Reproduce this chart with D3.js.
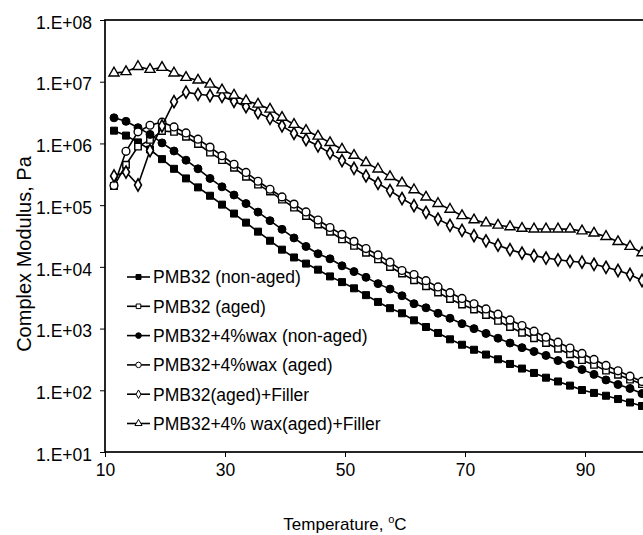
<!DOCTYPE html>
<html>
<head>
<meta charset="utf-8">
<script src="https://cdn.jsdelivr.net/npm/d3@7/dist/d3.min.js"></script>
<style>
  html, body { margin: 0; padding: 0; background: #fff; }
  svg { display: block; }
  text { font-family: "Liberation Sans", Arial, sans-serif; fill: #000; }
</style>
</head>
<body>
<svg id="chart" width="643" height="535"></svg>
<script>
// ---- data ----
const temperature = [11.5,13.5,15.5,17.5,19.5,21.5,23.5,25.5,27.5,29.5,31.5,33.5,35.5,37.5,39.5,41.5,43.5,45.5,47.5,49.5,51.5,53.5,55.5,57.5,59.5,61.5,63.5,65.5,67.5,69.5,71.5,73.5,75.5,77.5,79.5,81.5,83.5,85.5,87.5,89.5,91.5,93.5,95.5,97.5,99.5];

const pmb32NonAged = [1.61e6,1.34e6,1.04e6,7.97e5,5.57e5,3.88e5,2.71e5,1.94e5,1.42e5,1.02e5,7.3e4,5.21e4,3.72e4,2.65e4,1.90e4,1.42e4,1.13e4,9.0e3,7.0e3,5.66e3,4.49e3,3.48e3,2.70e3,2.14e3,1.77e3,1.36e3,1.06e3,849,670,547,454,379,318,267,225,191,160,139,119,101,90.6,81.6,72.1,63.4,55.6];

const pmb32Aged = [2.04e5,4.52e5,8.88e5,1.14e6,1.59e6,1.54e6,1.28e6,9.79e5,7.10e5,5.37e5,4.03e5,2.88e5,2.15e5,1.66e5,1.23e5,9.12e4,6.67e4,4.85e4,3.70e4,2.79e4,2.19e4,1.69e4,1.32e4,9.94e3,7.80e3,6.05e3,4.85e3,3.84e3,3.02e3,2.45e3,2.04e3,1.66e3,1.33e3,1.06e3,853,698,583,472,384,308,258,208,178,149,126];

const waxNonAged = [2.60e6,2.28e6,1.80e6,1.40e6,1.02e6,7.54e5,5.35e5,3.88e5,2.71e5,1.98e5,1.46e5,1.06e5,7.71e4,5.60e4,4.06e4,2.94e4,2.14e4,1.63e4,1.35e4,1.04e4,8.38e3,6.76e3,5.35e3,4.36e3,3.40e3,2.53e3,2.17e3,1.77e3,1.47e3,1.20e3,998,834,698,583,491,425,367,303,261,217,181,147,124,107,88.5];

const waxAged = [2.08e5,7.45e5,1.54e6,1.97e6,2.21e6,1.85e6,1.48e6,1.17e6,8.71e5,6.32e5,4.59e5,3.39e5,2.44e5,1.81e5,1.36e5,1.04e5,7.76e4,5.74e4,4.34e4,3.36e4,2.59e4,1.98e4,1.56e4,1.19e4,8.73e3,7.52e3,5.98e3,4.73e3,3.81e3,3.08e3,2.52e3,2.08e3,1.71e3,1.38e3,1.12e3,906,724,601,484,395,316,253,207,169,139];

const agedFiller = [2.97e5,3.44e5,2.12e5,7.68e5,1.92e6,4.74e6,6.76e6,6.25e6,5.98e6,5.78e6,4.82e6,3.94e6,3.15e6,2.55e6,1.93e6,1.45e6,1.15e6,9.15e5,6.97e5,5.27e5,3.95e5,2.97e5,2.26e5,1.72e5,1.28e5,9.82e4,7.65e4,5.94e4,4.71e4,3.90e4,3.20e4,2.64e4,2.24e4,1.90e4,1.67e4,1.52e4,1.39e4,1.30e4,1.23e4,1.19e4,1.10e4,9.84e3,8.73e3,7.52e3,6.01e3];

const waxAgedFiller = [1.38e7,1.45e7,1.76e7,1.58e7,1.70e7,1.38e7,1.17e7,1.06e7,9.12e6,7.36e6,6.03e6,4.92e6,4.32e6,3.59e6,2.64e6,2.03e6,1.62e6,1.31e6,1.03e6,8.04e5,6.40e5,4.88e5,3.84e5,2.90e5,2.29e5,1.77e5,1.35e5,1.06e5,8.55e4,6.74e4,5.77e4,5.15e4,4.73e4,4.46e4,4.20e4,4.10e4,4.10e4,4.10e4,4.09e4,3.81e4,3.52e4,3.10e4,2.56e4,2.14e4,1.69e4];

const seriesNames = ["PMB32 (non-aged)","PMB32 (aged)","PMB32+4%wax (non-aged)","PMB32+4%wax (aged)","PMB32(aged)+Filler","PMB32+4% wax(aged)+Filler"];
const seriesValues = [pmb32NonAged, pmb32Aged, waxNonAged, waxAged, agedFiller, waxAgedFiller];
const xTicks = [10,30,50,70,90];
const yTicks = [1e1,1e2,1e3,1e4,1e5,1e6,1e7,1e8];
const yTickLabels = ["1.E+01","1.E+02","1.E+03","1.E+04","1.E+05","1.E+06","1.E+07","1.E+08"];
const xTitle = "Temperature, ";
const yTitle = "Complex Modulus, Pa";

// ---- styles ----
const markerStyles = [
  {type: d3.symbolSquare, size: 49, fill: "#000", sw: 1.0},
  {type: d3.symbolSquare, size: 42, fill: "#fff", sw: 1.4},
  {type: d3.symbolCircle, size: 50, fill: "#000", sw: 1.0},
  {type: d3.symbolCircle, size: 48, fill: "#fff", sw: 1.4},
  {type: d3.symbolDiamond, size: 42, fill: "#fff", sw: 1.6},
  {type: d3.symbolTriangle, size: 44, fill: "#fff", sw: 1.4}
];

const svg = d3.select("#chart");
const margin = {left: 105, top: 20, right: 645, bottom: 452};
const x = d3.scaleLinear().domain([10, 100]).range([margin.left, margin.right]);
const y = d3.scaleLog().domain([10, 1e8]).range([margin.bottom, margin.top]);

// plot border
svg.append("rect")
  .attr("x", margin.left).attr("y", margin.top)
  .attr("width", margin.right - margin.left).attr("height", margin.bottom - margin.top)
  .attr("fill", "none").attr("stroke", "#000").attr("stroke-width", 1.7);

// axes
const yAxis = d3.axisLeft(y).tickValues(yTicks)
  .tickFormat((d, i) => yTickLabels[i]).tickSize(5).tickPadding(8);
const gy = svg.append("g").attr("transform", `translate(${margin.left},0)`).call(yAxis);
gy.select(".domain").remove();
gy.selectAll("text").attr("font-size", 17.5).attr("dy", "0.47em")
  .style("font-family", '"Liberation Sans", Arial, sans-serif');
gy.selectAll("line").attr("stroke-width", 1);

const xAxis = d3.axisBottom(x).tickValues(xTicks).tickSize(5).tickPadding(19);
const gx = svg.append("g").attr("transform", `translate(0,${margin.bottom})`).call(xAxis);
gx.select(".domain").remove();
gx.selectAll("text").attr("font-size", 17.5).attr("dy", "0")
  .style("font-family", '"Liberation Sans", Arial, sans-serif');
gx.selectAll("line").attr("stroke-width", 1);

// titles
const xt = svg.append("text").attr("x", 345).attr("y", 530)
  .attr("text-anchor", "middle").attr("font-size", 17);
xt.append("tspan").text(xTitle);
xt.append("tspan").text("o").attr("font-size", 11).attr("dy", -7);
xt.append("tspan").text("C").attr("dy", 7);

svg.append("text").attr("transform", "translate(31,254) rotate(-90)")
  .attr("text-anchor", "middle").attr("font-size", 20).text(yTitle);

// series
const line = d3.line().x((d, i) => x(temperature[i])).y(d => y(d));
seriesValues.forEach((vals, s) => {
  const g = svg.append("g");
  g.append("path").datum(vals).attr("d", line)
    .attr("fill", "none").attr("stroke", "#000").attr("stroke-width", 1.6);
  const st = markerStyles[s];
  g.selectAll("path.m").data(vals).join("path").attr("class", "m")
    .attr("d", d3.symbol().type(st.type).size(st.size))
    .attr("transform", (d, i) => `translate(${x(temperature[i])},${y(d)})`)
    .attr("fill", st.fill).attr("stroke", "#000").attr("stroke-width", st.sw);
});

// legend
const legendX0 = 127, legendX1 = 150, legendTextX = 153, legendY0 = 277, legendStep = 29.3;
seriesNames.forEach((name, s) => {
  const cy = legendY0 + s * legendStep;
  const g = svg.append("g");
  g.append("line").attr("x1", legendX0).attr("x2", legendX1).attr("y1", cy).attr("y2", cy)
    .attr("stroke", "#000").attr("stroke-width", 1.6);
  const st = markerStyles[s];
  g.append("path").attr("d", d3.symbol().type(st.type).size(st.size * 0.5))
    .attr("transform", `translate(${(legendX0 + legendX1) / 2},${cy})`)
    .attr("fill", st.fill).attr("stroke", "#000").attr("stroke-width", 1);
  g.append("text").attr("x", legendTextX).attr("y", cy + 6.3)
    .attr("font-size", 17.5).text(name);
});
</script>
</body>
</html>
